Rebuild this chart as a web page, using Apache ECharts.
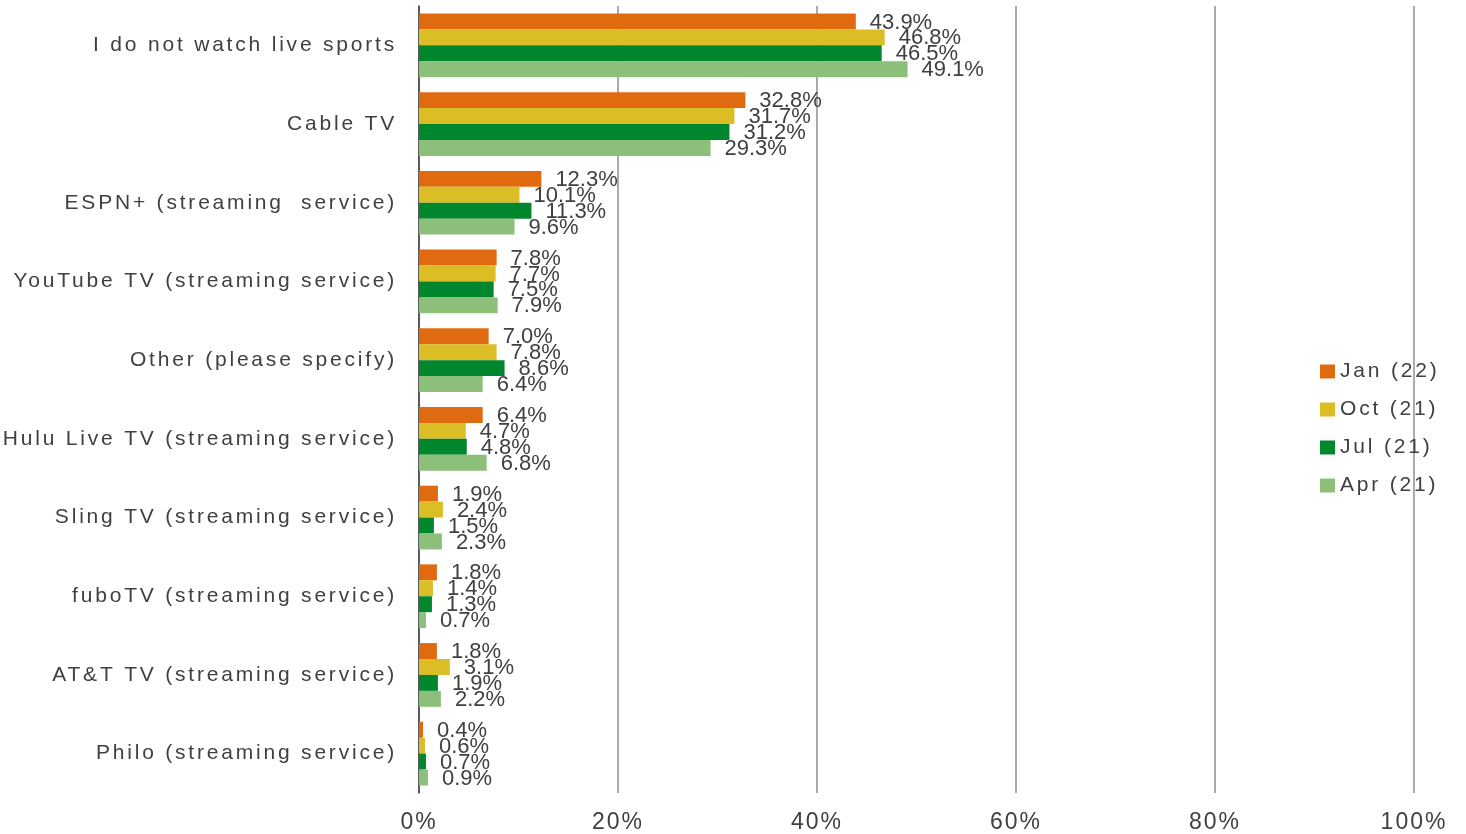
<!DOCTYPE html>
<html><head><meta charset="utf-8">
<script src="https://cdn.jsdelivr.net/npm/echarts@6/dist/echarts.min.js"></script>
<style>html,body{margin:0;padding:0;background:#fff}#c{width:1466px;height:834px}</style>
</head><body><div id="c"></div>
<script>
const categories = ["I do not watch live sports","Cable TV","ESPN+ (streaming  service)","YouTube TV (streaming service)","Other (please specify)","Hulu Live TV (streaming service)","Sling TV (streaming service)","fuboTV (streaming service)","AT&T TV (streaming service)","Philo (streaming service)"];
const seriesNames = ["Jan (22)","Oct (21)","Jul (21)","Apr (21)"];
const jan22 = [43.9,32.8,12.3,7.8,7.0,6.4,1.9,1.8,1.8,0.4];
const oct21 = [46.8,31.7,10.1,7.7,7.8,4.7,2.4,1.4,3.1,0.6];
const jul21 = [46.5,31.2,11.3,7.5,8.6,4.8,1.5,1.3,1.9,0.7];
const apr21 = [49.1,29.3,9.6,7.9,6.4,6.8,2.3,0.7,2.2,0.9];
const xTicks = [0,20,40,60,80,100];
const colors = ["#E06A10","#DBBD25","#00872D","#8BBF7A"];
const values = [jan22,oct21,jul21,apr21];
const font = "Liberation Sans";

// The reference text is drawn with wide character spacing: add it per font size.
const spacingBySize = {"21px":"2.8px","23px":"2px"};
const origFill = CanvasRenderingContext2D.prototype.fillText;
CanvasRenderingContext2D.prototype.fillText = function(t,x,y,m){
  let ls = "0px";
  for (const k in spacingBySize) { if (this.font.indexOf(" " + k) >= 0 || this.font.indexOf(k) === 0) ls = spacingBySize[k]; }
  if ('letterSpacing' in this) this.letterSpacing = ls;
  return m === undefined ? origFill.call(this,t,x,y) : origFill.call(this,t,x,y,m);
};

const chart = echarts.init(document.getElementById('c'));
chart.setOption({
  animation:false,
  textStyle:{fontFamily:font},
  grid:{left:419,right:52,top:6,bottom:40,containLabel:false},
  legend:{orient:'vertical',left:1315,top:356,itemWidth:15,itemHeight:14,itemGap:17,
    icon:'rect',textStyle:{fontSize:21,color:'#404040',fontFamily:font},
    data:seriesNames},
  xAxis:{type:'value',min:xTicks[0],max:xTicks[xTicks.length-1],interval:20,
    axisLabel:{formatter:'{value}%',fontSize:23,color:'#404040',margin:18},
    splitLine:{lineStyle:{color:'#8f8f8f',width:1.5}},
    axisLine:{show:false},axisTick:{show:false}},
  yAxis:{type:'category',data:categories,inverse:true,
    axisLabel:{fontSize:21,color:'#404040',margin:22},
    axisLine:{show:true,lineStyle:{color:'#404040',width:1.5}},axisTick:{show:false}},
  series:values.map((v,i)=>({
    name:seriesNames[i],type:'bar',data:v,barGap:'0%',barCategoryGap:'19%',
    itemStyle:{color:colors[i]},
    label:{show:true,position:'right',distance:14,offset:[0,1],formatter:p=>p.value.toFixed(1)+'%',
      fontSize:22,color:'#404040',fontFamily:font}
  }))
});
</script></body></html>
